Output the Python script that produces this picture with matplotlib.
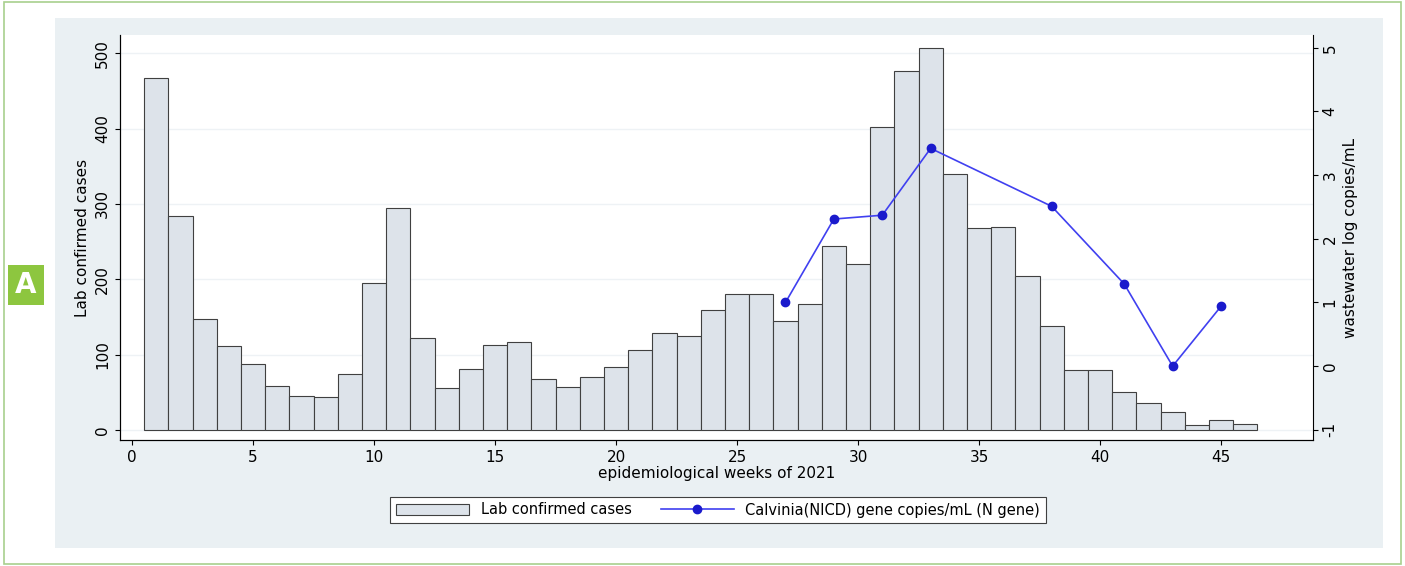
import matplotlib.pyplot as plt
from matplotlib.patches import Rectangle

weeks = list(range(1, 47))
cases = [467, 284, 147, 111, 88, 58, 45, 44, 74, 195, 294, 122, 56, 81, 113, 117, 68, 57, 70, 84,
         106, 129, 125, 160, 180, 181, 145, 167, 244, 221, 402, 476, 507, 340, 268, 269, 204, 138, 80, 80,
         50, 36, 24, 7, 13, 8]
ww_weeks = [27, 29, 31, 33, 38, 41, 43, 45]
ww_log = [1.0, 2.31, 2.37, 3.42, 2.51, 1.29, 0.0, 0.94]

fig = plt.figure(figsize=(14.05, 5.66), dpi=100)
fig.patches.append(Rectangle((0.003, 0.003), 0.994, 0.994, transform=fig.transFigure,
                             fill=False, edgecolor='#a8d08d', lw=1.2, zorder=-10))
fig.patches.append(Rectangle((55/1405, 1-548/566), 1328/1405, 530/566, transform=fig.transFigure,
                             facecolor='#eaf0f3', edgecolor='none', zorder=-10))
fig.patches.append(Rectangle((8/1405, 1-305/566), 36/1405, 40/566, transform=fig.transFigure,
                             facecolor='#8dc63f', edgecolor='none'))
fig.text(26/1405, 1-285/566, 'A', color='white', fontsize=20, fontweight='bold', ha='center', va='center')

ax = fig.add_axes([120/1405, 1-440/566, 1193/1405, 405/566])
ax.bar(weeks, cases, width=1.0, color='#dde3ea', edgecolor='#404040', lw=0.8, label='Lab confirmed cases')
ax.set_xlim(-0.5, 48.8)
ax.set_ylim(-13, 524)
ax.set_yticks([0, 100, 200, 300, 400, 500])
ax.set_yticklabels(['0', '100', '200', '300', '400', '500'], rotation=90, va='center')
ax.set_xticks([0, 5, 10, 15, 20, 25, 30, 35, 40, 45])
ax.set_ylabel('Lab confirmed cases', fontsize=11)
ax.set_xlabel('epidemiological weeks of 2021', fontsize=11, labelpad=1)
ax.grid(axis='y', color='#eef2f5', lw=1)
ax.set_axisbelow(True)
ax.tick_params(labelsize=11)
for s in ['top', 'right']:
    ax.spines[s].set_visible(False)

ax2 = ax.twinx()
ax2.plot(ww_weeks, ww_log, color='#4040f0', lw=1.2, marker='o', markersize=6,
         markerfacecolor='#1a1acc', markeredgecolor='#1a1acc', label='Calvinia(NICD) gene copies/mL (N gene)')
ax2.set_ylim(-1.16, 5.2)
ax2.set_yticks([-1, 0, 1, 2, 3, 4, 5])
ax2.set_yticklabels(['-1', '0', '1', '2', '3', '4', '5'], rotation=90, va='center')
ax2.set_ylabel('wastewater log copies/mL', fontsize=11)
ax2.tick_params(labelsize=11)
ax2.spines['top'].set_visible(False)

h1, l1 = ax.get_legend_handles_labels()
h2, l2 = ax2.get_legend_handles_labels()
leg = fig.legend(h1 + h2, l1 + l2, loc='center', bbox_to_anchor=(0.511, 1-510/566), ncol=2,
                 fontsize=10.5, frameon=True, fancybox=False, edgecolor='#404040', handlelength=5,
                 framealpha=1)
leg.get_frame().set_linewidth(0.8)

fig.savefig('out.png', dpi=100)
